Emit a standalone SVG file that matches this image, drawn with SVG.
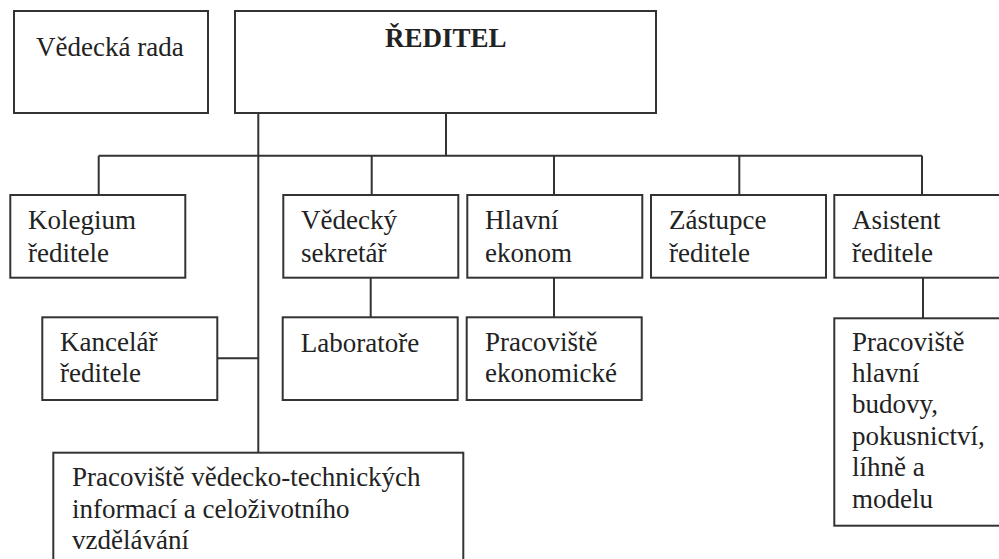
<svg xmlns="http://www.w3.org/2000/svg" width="999" height="559" viewBox="0 0 999 559">
<defs>
<rect id="box" width="175" height="82.7" fill="#fff" stroke="#333" stroke-width="2"/>
</defs>
<rect width="999" height="559" fill="#fff"/>
<g id="connectors" fill="none" stroke="#333" stroke-width="2">
<path d="M98.7 155.7H922M258.3 113V452.7M446 113V155.7M98.7 155.7V195M371.7 155.7V195M554 155.7V195M739.3 155.7V195M922 155.7V195M217.3 358.3H258.3M370.7 277.7V317.3M554 277.7V317.3M923 277.7V318.3"/>
</g>
<g font-family="Liberation Serif" font-size="27" fill="#222">
<g id="vedecka-rada"><rect x="14" y="11" width="194" height="102" fill="#fff" stroke="#333" stroke-width="2"/><text x="36" y="56">Vědecká rada</text></g>
<g id="reditel"><rect x="235" y="11" width="421" height="102" fill="#fff" stroke="#333" stroke-width="2"/><text font-weight="bold" x="385" y="47">ŘEDITEL</text></g>
<g id="kolegium"><use href="#box" x="10.3" y="195"/><text x="28" y="229.3">Kolegium</text><text x="28" y="261.7">ředitele</text></g>
<g id="vedecky-sekretar"><use href="#box" x="283.3" y="195"/><text x="301" y="229.3">Vědecký</text><text x="301" y="261.7">sekretář</text></g>
<g id="hlavni-ekonom"><use href="#box" x="467.3" y="195"/><text x="485" y="229.3">Hlavní</text><text x="485" y="261.7">ekonom</text></g>
<g id="zastupce"><use href="#box" x="651" y="195"/><text x="669" y="229.3">Zástupce</text><text x="669" y="261.7">ředitele</text></g>
<g id="asistent"><use href="#box" x="834.3" y="195"/><text x="852" y="229.3">Asistent</text><text x="852" y="261.7">ředitele</text></g>
<g id="kancelar"><use href="#box" x="42.3" y="317.3"/><text x="60" y="350.7">Kancelář</text><text x="60" y="381.7">ředitele</text></g>
<g id="laboratore"><use href="#box" x="282.7" y="317.3"/><text x="300.7" y="352.3">Laboratoře</text></g>
<g id="pracoviste-ekonomicke"><use href="#box" x="466.7" y="317.3"/><text x="485" y="350.7">Pracoviště</text><text x="485" y="381.7">ekonomické</text></g>
<g id="pracoviste-hlavni-budovy"><rect x="834.3" y="318.3" width="175" height="207.4" fill="#fff" stroke="#333" stroke-width="2"/><text x="852" y="350.7">Pracoviště</text><text x="852" y="381.7">hlavní</text><text x="852" y="413.3">budovy,</text><text x="852" y="445">pokusnictví,</text><text x="852" y="476">líhně a</text><text x="852" y="508">modelu</text></g>
<g id="pracoviste-vti"><rect x="53.3" y="452.7" width="410" height="120" fill="#fff" stroke="#333" stroke-width="2"/><text x="72" y="486">Pracoviště vědecko-technických</text><text x="72" y="518">informací a celoživotního</text><text x="72" y="549">vzdělávání</text></g>
</g>
</svg>
